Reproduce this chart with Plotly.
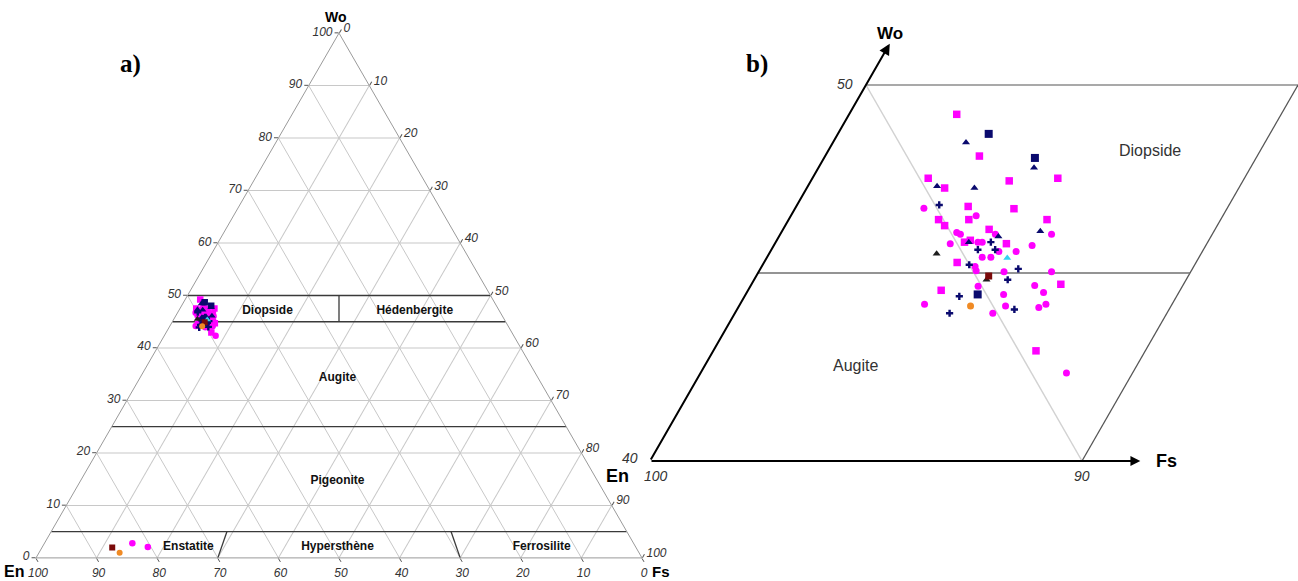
import plotly.graph_objects as go

# ---------------- data : Wo and Fs (mol %), En = 100 - Wo - Fs ----------------
mag_sq_wo = [49.22, 48.11, 47.52, 47.45, 47.52, 47.26, 46.77, 46.71, 46.42, 46.42,
             46.42, 46.26, 46.16, 45.82, 45.87, 45.78, 45.28, 44.70, 44.54, 42.93]
mag_sq_fs = [2.49, 3.57, 2.68, 4.59, 5.68, 3.19, 3.98, 5.07, 3.47, 4.17,
             5.98, 3.69, 4.77, 4.37, 4.48, 5.36, 4.47, 7.16, 4.47, 7.47]

mag_ci_wo = [46.52, 46.72, 46.08, 46.03, 46.03, 46.03, 45.78, 45.82, 45.82, 45.73,
             45.57, 45.57, 45.42, 45.42, 45.17, 45.06, 45.03, 45.03, 44.65, 44.67,
             44.48, 44.43, 44.17, 44.12, 44.08, 44.17, 43.93, 42.34, 2.8, 2.1]
mag_ci_fs = [4.29, 2.98, 4.06, 4.17, 4.98, 6.28, 4.06, 4.68, 4.78, 5.98,
             5.29, 5.69, 4.98, 5.18, 4.94, 5.02, 5.68, 6.78, 5.27, 6.57,
             6.87, 5.97, 4.27, 6.17, 6.96, 7.08, 5.97, 8.47, 14.5, 17.4]

navy_tri_wo = [48.47, 47.80, 47.31, 47.26, 45.97, 46.11, 45.82]
navy_tri_fs = [3.08, 4.99, 2.99, 3.88, 5.08, 5.98, 4.47]

navy_sq_wo = [48.70, 48.06, 44.43]
navy_sq_fs = [3.49, 4.88, 5.37]

navy_cr_wo = [46.81, 45.82, 45.62, 45.62, 45.22, 45.11, 44.82, 44.38, 44.03, 43.93]
navy_cr_fs = [3.29, 4.98, 4.78, 5.18, 4.78, 5.97, 5.87, 4.97, 6.42, 4.97]

blk_tri_wo = [45.51, 44.82]
blk_tri_fs = [3.88, 5.38]

cyan_tri_wo = [45.40]
cyan_tri_fs = [5.57]

red_sq_wo = [44.92, 1.96]
red_sq_fs = [5.38, 11.6]

orange_ci_wo = [44.12, 1.0]
orange_ci_fs = [5.36, 13.3]

# classification boundaries (Wo, Fs pairs)
boundaries = [
    ([50, 50], [0, 50]),
    ([45, 45], [0, 55]),
    ([25, 25], [0, 75]),
    ([5, 5], [0, 95]),
    ([45, 50], [27.5, 25]),
    ([0, 5], [30, 29]),
    ([0, 5], [70, 66]),
]
region_names = ["Diopside", "Hédenbergite", "Augite", "Pigeonite",
                "Enstatite", "Hypersthène", "Ferrosilite"]
region_wo = [47.0, 47.0, 34.3, 14.7, 2.1, 2.1, 2.1]
region_fs = [14.7, 39.0, 32.6, 42.4, 24.1, 48.7, 82.4]

ticks = list(range(0, 101, 10))

series = [
    (mag_sq_wo, mag_sq_fs, "square", "#FF00FF", 6.5, 7.5),
    (mag_ci_wo, mag_ci_fs, "circle", "#FF00FF", 6.5, 7),
    (navy_tri_wo, navy_tri_fs, "triangle-up", "#0A0A6E", 6.5, 7),
    (navy_sq_wo, navy_sq_fs, "square", "#0A0A6E", 6.5, 8),
    (navy_cr_wo, navy_cr_fs, "cross", "#0A0A6E", 6, 6),
    (blk_tri_wo, blk_tri_fs, "triangle-up", "#1E1E1E", 6.5, 7),
    (cyan_tri_wo, cyan_tri_fs, "triangle-up", "#33D6F0", 6.5, 7),
    (red_sq_wo, red_sq_fs, "square", "#7A0A0A", 6, 7),
    (orange_ci_wo, orange_ci_fs, "circle", "#F08A24", 6, 7),
]

W, H = 1298, 581
fig = go.Figure()

# ---------------- panel a : ternary ----------------
for wo, fs in boundaries:
    fig.add_trace(go.Scatterternary(
        a=wo, b=[100 - w - f for w, f in zip(wo, fs)], c=fs, mode="lines",
        line=dict(color="#3a3a3a", width=1.3), hoverinfo="skip", showlegend=False))

fig.add_trace(go.Scatterternary(
    a=region_wo, b=[100 - w - f for w, f in zip(region_wo, region_fs)], c=region_fs,
    mode="text", text=region_names, textposition="middle center",
    textfont=dict(family="Liberation Sans", size=12, color="#111", weight="bold"),
    hoverinfo="skip", showlegend=False))

for wo, fs, sym, col, s_left, s_right in series:
    fig.add_trace(go.Scatterternary(
        a=wo, b=[100 - w - f for w, f in zip(wo, fs)], c=fs, mode="markers",
        marker=dict(symbol=sym, color=col, size=s_left, line=dict(width=0)),
        showlegend=False))


def xpos(wo, fs):
    return [f + (w - 40) / 2 for w, f in zip(wo, fs)]


# ---------------- panel b : enlarged sheared window ----------------
frame = [
    ([50, 50], [0, 10], "#8c8c8c", 1.5),   # top edge Wo = 50
    ([40, 50], [10, 10], "#555555", 1.3),  # right edge Fs = 10
    ([45, 45], [0, 10], "#707070", 1.3),   # Wo = 45
    ([50, 40], [0, 10], "#d2d2d2", 1.5),   # En = 50
]
for wo, fs, col, lw in frame:
    fig.add_trace(go.Scatter(
        x=xpos(wo, fs), y=wo, mode="lines", xaxis="x2", yaxis="y2",
        line=dict(color=col, width=lw), hoverinfo="skip", showlegend=False))

for wo, fs, sym, col, s_left, s_right in series:
    keep = [(w, f) for w, f in zip(wo, fs) if w >= 40]
    kw = [k[0] for k in keep]
    kf = [k[1] for k in keep]
    fig.add_trace(go.Scatter(
        x=xpos(kw, kf), y=kw, mode="markers", xaxis="x2", yaxis="y2",
        marker=dict(symbol=sym, color=col, size=s_right, line=dict(width=0)),
        showlegend=False))

annotations = []
# axis arrows of panel b
annotations.append(dict(x=xpos([51.1], [0])[0], y=51.1, ax=0, ay=40,
                        xref="x2", yref="y2", axref="x2", ayref="y2",
                        showarrow=True, arrowhead=2, arrowsize=1.1, arrowwidth=2,
                        arrowcolor="#000", text=""))
annotations.append(dict(x=11.35, y=40, ax=0, ay=40,
                        xref="x2", yref="y2", axref="x2", ayref="y2",
                        showarrow=True, arrowhead=2, arrowsize=1.1, arrowwidth=1.8,
                        arrowcolor="#000", text=""))


def lab(px, py, text, size, bold=False, italic=False, family="Liberation Sans",
        color="#000", xanchor="center"):
    annotations.append(dict(
        x=px / W, y=1 - py / H, xref="paper", yref="paper", text=text,
        showarrow=False, xanchor=xanchor, yanchor="middle",
        font=dict(family=family, size=size, color=color,
                  weight="bold" if bold else "normal",
                  style="italic" if italic else "normal")))


lab(130, 64, "a)", 25, bold=True, family="Liberation Serif")
lab(757, 64, "b)", 25, bold=True, family="Liberation Serif")
lab(336, 17, "Wo", 14, bold=True)
lab(14, 571, "En", 16, bold=True)
lab(661, 571, "Fs", 15, bold=True)
lab(617, 476, "En", 18, bold=True)
lab(890, 33, "Wo", 17, bold=True)
lab(1166, 461, "Fs", 18, bold=True)
lab(845, 84, "50", 14, italic=True, color="#333")
lab(630, 458, "40", 14, italic=True, color="#333")
lab(656, 476, "100", 14, italic=True, color="#333")
lab(1082, 476, "90", 14, italic=True, color="#333")
lab(1150, 151, "Diopside", 16, color="#333")
lab(855, 365, "Augite", 16, color="#333")

axis_common = dict(
    tickmode="array", tickvals=ticks, ticks="outside", ticklen=4, tickcolor="#555",
    linecolor="#9a9a9a", linewidth=1, showgrid=True, gridcolor="#c8c8c8", gridwidth=1,
    tickfont=dict(family="Liberation Sans", size=12, color="#333", style="italic"),
    title=dict(text=""), showline=True,
)

fig.update_layout(
    width=W, height=H,
    margin=dict(l=0, r=0, t=0, b=0),
    paper_bgcolor="white", plot_bgcolor="rgba(0,0,0,0)",
    showlegend=False,
    ternary=dict(
        domain=dict(x=[36 / W, 642 / W], y=[1 - 558 / H, 1 - 33 / H]),
        sum=100, bgcolor="rgba(0,0,0,0)",
        aaxis=axis_common, baxis=axis_common, caxis=axis_common,
    ),
    xaxis2=dict(domain=[600 / W, 1.0], range=[-50 / 43.2, 648 / 43.2], anchor="y2",
                visible=False, fixedrange=True),
    yaxis2=dict(domain=[0.0, 1.0], range=[40 - 120 / 37.6, 40 + 461 / 37.6], anchor="x2",
                visible=False, fixedrange=True),
    annotations=annotations,
)

fig.write_html("out.html", config={"displayModeBar": False},
               post_script="document.body.style.margin='0px';")
